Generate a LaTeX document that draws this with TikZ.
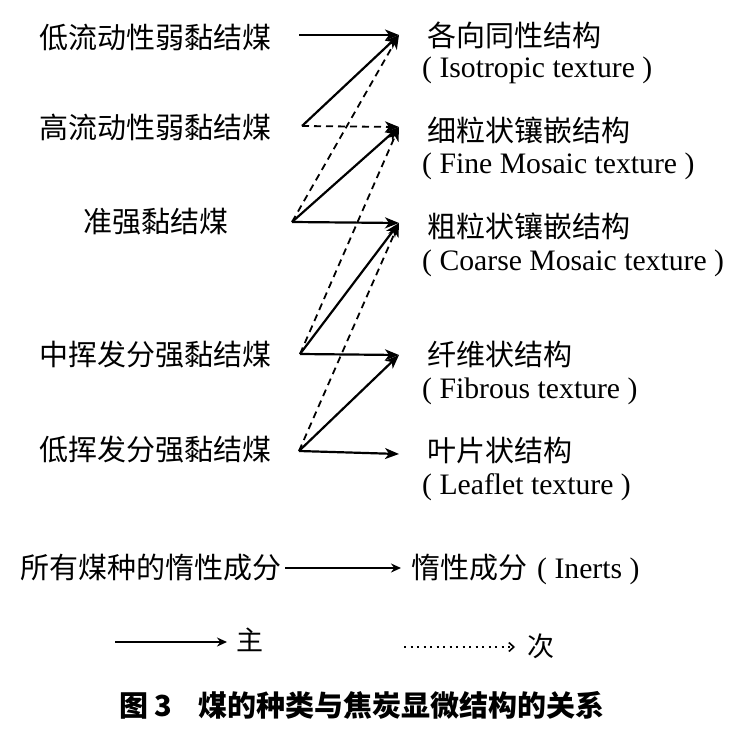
\documentclass[tikz,border=0pt]{standalone}
\usepackage{fontspec}
\setmainfont{Liberation Serif}
\newfontfamily\cjk{Noto Sans CJK SC}
\usetikzlibrary{arrows.meta}
\begin{document}
\begin{tikzpicture}[x=1pt,y=-1pt,
  zh/.style={font=\cjk\fontsize{29}{30}\selectfont, inner sep=0pt},
  en/.style={font=\fontsize{29.7}{30}\selectfont, inner sep=0pt},
  mainarrow/.style={line width=2.2pt, -{Stealth[length=14pt,width=11pt,inset=4pt]}},
  minorarrow/.style={line width=1.8pt, dash pattern=on 7pt off 5pt, -{Stealth[length=14pt,width=11pt,inset=4pt]}},
  legsolid/.style={line width=1.9pt, -{Stealth[length=10pt,width=9pt]}},
  legdot/.style={line width=2.4pt, dash pattern=on 2.2pt off 4.3pt, -{Straight Barb[length=5pt,width=9pt,line width=1.6pt]}}]
\useasboundingbox (0,0) rectangle (750,741);
% left labels
\node[zh, anchor=east] (l1) at (272,38) {低流动性弱黏结煤};
\node[zh, anchor=east] (l2) at (272,127) {高流动性弱黏结煤};
\node[zh, anchor=east] (l3) at (229,222) {准强黏结煤};
\node[zh, anchor=east] (l4) at (272,355) {中挥发分强黏结煤};
\node[zh, anchor=east] (l5) at (272,450) {低挥发分强黏结煤};
% right labels
\node[zh, anchor=west] (r1) at (427,35) {各向同性结构};
\node[en, anchor=base west] (e1) at (422,78) {( Isotropic texture )};
\node[zh, anchor=west] (r2) at (427,130) {细粒状镶嵌结构};
\node[en, anchor=base west] (e2) at (422,174) {( Fine Mosaic texture )};
\node[zh, anchor=west] (r3) at (427,226) {粗粒状镶嵌结构};
\node[en, anchor=base west] (e3) at (422,270) {( Coarse Mosaic texture )};
\node[zh, anchor=west] (r4) at (427,354) {纤维状结构};
\node[en, anchor=base west] (e4) at (422,398) {( Fibrous texture )};
\node[zh, anchor=west] (r5) at (427,450) {叶片状结构};
\node[en, anchor=base west] (e5) at (422,494) {( Leaflet texture )};
% arrow end points
\coordinate (p1) at (299,35);
\coordinate (p2) at (302,126);
\coordinate (p3) at (292,222);
\coordinate (p4) at (300,354);
\coordinate (p5) at (299,451);
\coordinate (t1) at (399,35);
\coordinate (t2) at (399,127);
\coordinate (t3) at (399,223);
\coordinate (t4) at (399,355);
\coordinate (t5) at (399,454);
% main arrows
\draw[mainarrow] (p1) -- (t1);
\draw[mainarrow] (p2) -- (t1);
\draw[mainarrow] (p3) -- (t2);
\draw[mainarrow] (p3) -- (t3);
\draw[mainarrow] (p4) -- (t3);
\draw[mainarrow] (p4) -- (t4);
\draw[mainarrow] (p5) -- (t4);
\draw[mainarrow] (p5) -- (t5);
% minor arrows
\draw[minorarrow] (p2) -- (t2);
\draw[minorarrow] (p3) -- (t1);
\draw[minorarrow] (p4) -- (t2);
\draw[minorarrow] (p5) -- (t3);
% inerts
\node[zh, anchor=east] (l6) at (282,568) {所有煤种的惰性成分};
\node[anchor=west, inner sep=0pt] (r6) at (411,569) {\cjk\fontsize{29}{30}\selectfont 惰性成分\hspace{10pt}\fontspec{Liberation Serif}\fontsize{29.7}{30}\selectfont( Inerts )};
\draw[legsolid] ([xshift=3pt]l6.east) coordinate (i1) -- ([xshift=-10pt]i1 -| r6.west);
% legend
\coordinate (a1) at (115,642);
\node[zh, anchor=west, font=\cjk\fontsize{27}{28}\selectfont] (zhu) at (236,640) {主};
\draw[legsolid] (a1) -- ([xshift=-9pt]a1 -| zhu.west);
\coordinate (b1) at (404,647);
\node[zh, anchor=west, font=\cjk\fontsize{27}{28}\selectfont] (ci) at (527,646) {次};
\draw[legdot] (b1) -- ([xshift=-12pt]b1 -| ci.west);
% caption
\node[anchor=west, inner sep=0pt, font=\cjk\bfseries\fontsize{29}{30}\selectfont] (cap) at (119,705) {图\hspace{6pt}3\hspace{27pt}煤的种类与焦炭显微结构的关系};
\end{tikzpicture}
\end{document}
